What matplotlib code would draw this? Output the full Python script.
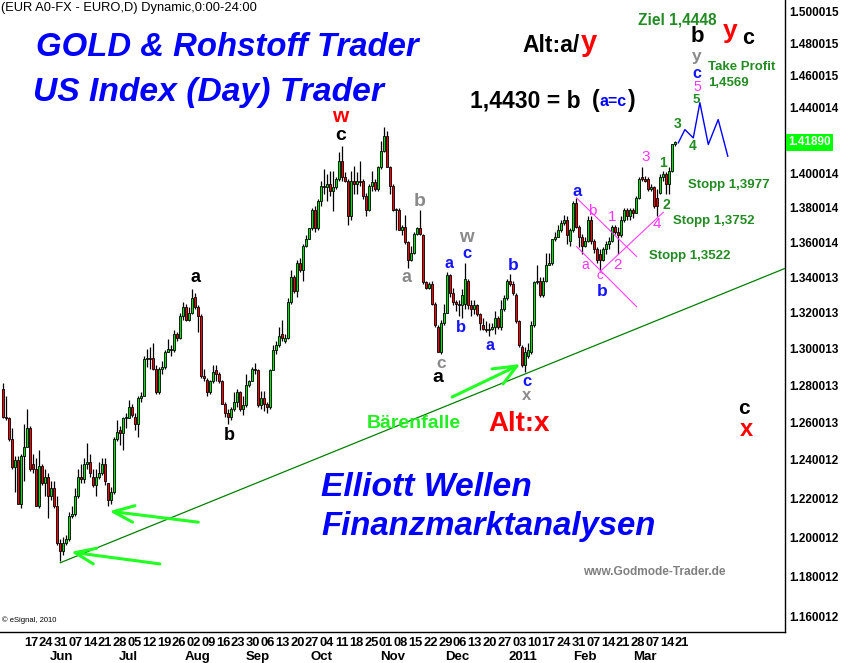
import matplotlib.pyplot as plt
import numpy as np
from matplotlib.ticker import NullLocator

plt.rcParams['font.family'] = ['Liberation Sans', 'DejaVu Sans']

# daily candles, EUR/USD
opens = [1.278, 1.263, 1.262, 1.251, 1.236, 1.240, 1.217, 1.242, 1.247, 1.257,
         1.238, 1.235, 1.216, 1.237, 1.228, 1.231, 1.221, 1.225, 1.216, 1.197,
         1.193, 1.197, 1.199, 1.211, 1.212, 1.221, 1.231, 1.230, 1.238, 1.239,
         1.231, 1.227, 1.231, 1.233, 1.238, 1.228, 1.219, 1.223, 1.251, 1.256,
         1.254, 1.262, 1.262, 1.268, 1.263, 1.259, 1.273, 1.274, 1.294, 1.295,
         1.295, 1.289, 1.276, 1.289, 1.290, 1.298, 1.300, 1.299, 1.308, 1.306,
         1.318, 1.323, 1.316, 1.320, 1.329, 1.323, 1.318, 1.285, 1.283, 1.276,
         1.282, 1.288, 1.286, 1.282, 1.270, 1.265, 1.263, 1.267, 1.271, 1.276,
         1.267, 1.269, 1.280, 1.282, 1.289, 1.288, 1.269, 1.273, 1.270, 1.268,
         1.288, 1.299, 1.302, 1.308, 1.304, 1.306, 1.326, 1.340, 1.332, 1.348,
         1.344, 1.358, 1.362, 1.368, 1.379, 1.368, 1.384, 1.393, 1.392, 1.394,
         1.390, 1.392, 1.397, 1.408, 1.398, 1.396, 1.375, 1.396, 1.394, 1.396,
         1.396, 1.387, 1.379, 1.393, 1.395, 1.391, 1.404, 1.414, 1.423, 1.404,
         1.393, 1.379, 1.379, 1.367, 1.369, 1.360, 1.350, 1.354, 1.365, 1.368,
         1.364, 1.337, 1.334, 1.336, 1.325, 1.312, 1.298, 1.314, 1.320, 1.341,
         1.331, 1.326, 1.325, 1.324, 1.325, 1.338, 1.324, 1.322, 1.324, 1.319,
         1.313, 1.311, 1.310, 1.311, 1.312, 1.317, 1.312, 1.322, 1.328, 1.338,
         1.336, 1.330, 1.315, 1.301, 1.291, 1.296, 1.298, 1.313, 1.337, 1.338,
         1.330, 1.338, 1.347, 1.348, 1.362, 1.363, 1.367, 1.371, 1.373, 1.361,
         1.367, 1.383, 1.369, 1.363, 1.358, 1.361, 1.373, 1.361, 1.356, 1.353,
         1.350, 1.356, 1.359, 1.361, 1.369, 1.366, 1.364, 1.373, 1.379, 1.375,
         1.379, 1.377, 1.386, 1.398, 1.397, 1.397, 1.391, 1.392, 1.386, 1.389,
         1.398, 1.400, 1.394, 1.402, 1.418]
highs = [1.281, 1.274, 1.263, 1.257, 1.242, 1.242, 1.243, 1.259, 1.267, 1.258,
         1.243, 1.241, 1.245, 1.238, 1.235, 1.233, 1.229, 1.229, 1.221, 1.199,
         1.200, 1.201, 1.213, 1.216, 1.225, 1.235, 1.238, 1.241, 1.249, 1.243,
         1.235, 1.235, 1.239, 1.241, 1.241, 1.228, 1.226, 1.252, 1.261, 1.258,
         1.263, 1.265, 1.272, 1.270, 1.265, 1.274, 1.276, 1.296, 1.300, 1.301,
         1.303, 1.291, 1.290, 1.293, 1.299, 1.305, 1.302, 1.310, 1.309, 1.320,
         1.326, 1.325, 1.323, 1.333, 1.331, 1.324, 1.319, 1.289, 1.284, 1.283,
         1.291, 1.291, 1.287, 1.283, 1.271, 1.267, 1.268, 1.276, 1.278, 1.277,
         1.274, 1.286, 1.283, 1.290, 1.292, 1.289, 1.277, 1.277, 1.271, 1.289,
         1.302, 1.304, 1.312, 1.316, 1.308, 1.328, 1.344, 1.341, 1.350, 1.351,
         1.359, 1.364, 1.3685, 1.380, 1.381, 1.385, 1.396, 1.403, 1.400, 1.402,
         1.402, 1.398, 1.413, 1.417, 1.401, 1.397, 1.402, 1.405, 1.401, 1.408,
         1.397, 1.389, 1.394, 1.402, 1.397, 1.405, 1.420, 1.428, 1.426, 1.405,
         1.394, 1.380, 1.380, 1.370, 1.376, 1.361, 1.358, 1.366, 1.369, 1.379,
         1.365, 1.338, 1.337, 1.338, 1.326, 1.313, 1.316, 1.325, 1.343, 1.342,
         1.334, 1.327, 1.327, 1.333, 1.348, 1.339, 1.327, 1.327, 1.325, 1.320,
         1.317, 1.315, 1.314, 1.314, 1.321, 1.318, 1.327, 1.330, 1.339, 1.342,
         1.338, 1.331, 1.316, 1.302, 1.301, 1.303, 1.315, 1.338, 1.347, 1.340,
         1.340, 1.354, 1.354, 1.362, 1.366, 1.370, 1.373, 1.376, 1.375, 1.368,
         1.384, 1.386, 1.370, 1.365, 1.363, 1.375, 1.375, 1.362, 1.357, 1.356,
         1.357, 1.361, 1.363, 1.370, 1.370, 1.369, 1.375, 1.380, 1.380, 1.380,
         1.380, 1.387, 1.398, 1.404, 1.399, 1.398, 1.394, 1.393, 1.391, 1.400,
         1.402, 1.401, 1.404, 1.418, 1.4195]
lows = [1.262, 1.261, 1.250, 1.235, 1.223, 1.217, 1.215, 1.229, 1.247, 1.234,
        1.233, 1.216, 1.215, 1.227, 1.221, 1.210, 1.219, 1.215, 1.196, 1.188,
        1.191, 1.196, 1.198, 1.210, 1.211, 1.220, 1.228, 1.228, 1.235, 1.231,
        1.226, 1.221, 1.230, 1.232, 1.227, 1.216, 1.217, 1.222, 1.250, 1.248,
        1.245, 1.257, 1.262, 1.263, 1.256, 1.252, 1.271, 1.274, 1.290, 1.289,
        1.288, 1.275, 1.275, 1.286, 1.289, 1.298, 1.296, 1.298, 1.304, 1.305,
        1.316, 1.315, 1.315, 1.319, 1.322, 1.309, 1.284, 1.282, 1.274, 1.275,
        1.281, 1.282, 1.281, 1.270, 1.263, 1.259, 1.261, 1.266, 1.268, 1.266,
        1.264, 1.268, 1.279, 1.282, 1.286, 1.268, 1.267, 1.266, 1.265, 1.267,
        1.288, 1.297, 1.301, 1.304, 1.303, 1.305, 1.325, 1.331, 1.329, 1.343,
        1.338, 1.357, 1.362, 1.367, 1.366, 1.367, 1.381, 1.388, 1.384, 1.387,
        1.378, 1.391, 1.396, 1.396, 1.395, 1.370, 1.373, 1.388, 1.388, 1.393,
        1.385, 1.375, 1.378, 1.390, 1.390, 1.390, 1.403, 1.413, 1.404, 1.388,
        1.378, 1.367, 1.367, 1.364, 1.359, 1.345, 1.349, 1.353, 1.364, 1.364,
        1.336, 1.333, 1.333, 1.324, 1.312, 1.298, 1.297, 1.313, 1.320, 1.329,
        1.324, 1.321, 1.318, 1.317, 1.322, 1.322, 1.318, 1.319, 1.318, 1.310,
        1.310, 1.309, 1.307, 1.310, 1.308, 1.311, 1.310, 1.321, 1.327, 1.335,
        1.330, 1.314, 1.301, 1.290, 1.287, 1.295, 1.297, 1.312, 1.336, 1.329,
        1.329, 1.337, 1.347, 1.347, 1.361, 1.363, 1.366, 1.370, 1.359, 1.358,
        1.366, 1.368, 1.357, 1.353, 1.357, 1.360, 1.359, 1.354, 1.348, 1.344,
        1.349, 1.353, 1.356, 1.360, 1.365, 1.353, 1.363, 1.372, 1.373, 1.373,
        1.374, 1.377, 1.385, 1.396, 1.395, 1.390, 1.390, 1.380, 1.375, 1.388,
        1.396, 1.388, 1.388, 1.401, 1.417]
closes = [1.263, 1.262, 1.251, 1.236, 1.240, 1.217, 1.242, 1.247, 1.257, 1.235,
          1.235, 1.216, 1.237, 1.228, 1.231, 1.221, 1.225, 1.216, 1.197, 1.193,
          1.197, 1.199, 1.211, 1.212, 1.221, 1.231, 1.230, 1.238, 1.239, 1.233,
          1.227, 1.231, 1.233, 1.238, 1.229, 1.219, 1.223, 1.251, 1.255, 1.254,
          1.262, 1.2625, 1.268, 1.264, 1.259, 1.273, 1.274, 1.294, 1.295, 1.294,
          1.289, 1.276, 1.289, 1.290, 1.298, 1.300, 1.299, 1.308, 1.306, 1.318,
          1.323, 1.316, 1.320, 1.328, 1.323, 1.318, 1.285, 1.284, 1.276, 1.282,
          1.287, 1.286, 1.282, 1.270, 1.265, 1.263, 1.267, 1.271, 1.276, 1.267,
          1.269, 1.280, 1.282, 1.289, 1.288, 1.269, 1.273, 1.270, 1.268, 1.288,
          1.299, 1.302, 1.307, 1.306, 1.306, 1.326, 1.340, 1.332, 1.348, 1.344,
          1.358, 1.362, 1.368, 1.379, 1.368, 1.384, 1.393, 1.392, 1.394, 1.390,
          1.392, 1.397, 1.408, 1.398, 1.396, 1.375, 1.396, 1.394, 1.396, 1.395,
          1.387, 1.379, 1.393, 1.395, 1.391, 1.404, 1.414, 1.423, 1.404, 1.393,
          1.379, 1.3795, 1.367, 1.369, 1.360, 1.350, 1.354, 1.365, 1.368, 1.365,
          1.337, 1.334, 1.336, 1.325, 1.313, 1.298, 1.314, 1.320, 1.341, 1.331,
          1.326, 1.325, 1.324, 1.330, 1.339, 1.324, 1.322, 1.324, 1.319, 1.314,
          1.311, 1.310, 1.311, 1.312, 1.317, 1.312, 1.322, 1.328, 1.338, 1.336,
          1.331, 1.315, 1.302, 1.291, 1.298, 1.299, 1.313, 1.337, 1.338, 1.330,
          1.338, 1.347, 1.348, 1.362, 1.363, 1.367, 1.371, 1.373, 1.364, 1.367,
          1.383, 1.369, 1.363, 1.358, 1.361, 1.373, 1.361, 1.356, 1.350, 1.350,
          1.356, 1.359, 1.361, 1.369, 1.366, 1.364, 1.373, 1.379, 1.375, 1.379,
          1.377, 1.386, 1.397, 1.397, 1.396, 1.391, 1.392, 1.381, 1.381, 1.398,
          1.400, 1.394, 1.402, 1.418, 1.419]

day_labels = ["17", "24", "31", "07", "14", "21", "28", "05", "12", "19", "26",
              "02", "09", "16", "23", "30", "06", "13", "20", "27", "04", "11",
              "18", "25", "01", "08", "15", "22", "29", "06", "13", "20", "27",
              "03", "10", "17", "24", "31", "07", "14", "21", "28", "07", "14", "21"]
month_labels = ["Jun", "Jul", "Aug", "Sep", "Oct", "Nov", "Dec", "2011", "Feb", "Mar"]
month_pos = [20.6, 42.6, 65.6, 85.9, 107.2, 130.9, 152.2, 174.2, 194.9, 214.9]
price_ticks = [1.160012, 1.180012, 1.200012, 1.220012, 1.240012, 1.260013,
               1.280013, 1.300013, 1.320013, 1.340013, 1.360014, 1.380014,
               1.400014, 1.440014, 1.460015, 1.480015, 1.500015]
last_price = 1.41890

# support line from the June low
trend_x = [20, 261.6]
trend_y = [1.187, 1.345]
# projected path after the last candle
proj_x = [226.0, 228.2, 231.0, 233.2, 236.0, 239.3, 242.5]
proj_y = [1.4186, 1.4266, 1.4216, 1.4430, 1.4176, 1.4327, 1.4106]
# pink channel lines (start, end)
channels = [((192.1, 1.3858), (212.1, 1.3518)),
            ((192.1, 1.3575), (212.1, 1.3233)),
            ((199.9, 1.3431), (221.0, 1.3774))]
# hand-drawn arrows: tail, tip, head1, head2
arrows = [((53.2, 1.1864), (24.9, 1.1921), (32.1, 1.1943), (31.0, 1.1864)),
          ((66.0, 1.2076), (37.7, 1.2130), (44.9, 1.2161), (44.1, 1.2076)),
          ((150.6, 1.2735), (172.2, 1.2904), (163.9, 1.2888), (167.6, 1.2806))]

W, H = 841, 663
fig = plt.figure(figsize=(W / 100, H / 100), dpi=100)
ax = fig.add_axes([0, 31 / H, 785 / W, 632 / H])
ax.set_yscale('log')
ax.set_ylim(1.1526, 1.5073)
ax.set_xlim(-0.1, 261.57)

x = np.arange(1, len(opens) + 1)
o = np.array(opens)
c = np.array(closes)
bottom = np.minimum(o, c)
height = np.maximum(np.abs(c - o), 0.0005)
cols = ['#00e600' if cc >= oo else '#ff0000' for oo, cc in zip(o, c)]
ax.vlines(x, lows, highs, color='black', lw=0.9, zorder=2)
ax.bar(x, height, bottom=bottom, width=0.8, color=cols,
       edgecolor='black', linewidth=0.6, zorder=3)

ax.plot(trend_x, trend_y, color='#008000', lw=0.9, zorder=4)
ax.plot(proj_x, proj_y, color='#0000ff', lw=1.0, zorder=4)
for (x0, y0), (x1, y1) in channels:
    ax.plot([x0, x1], [y0, y1], color='#ff40ff', lw=0.8, zorder=4)
for tail, tip, h1, h2 in arrows:
    ax.plot([tail[0], tip[0], h1[0]], [tail[1], tip[1], h1[1]],
            color='#22ff22', lw=2.2, solid_capstyle='round', zorder=5)
    ax.plot([tip[0], h2[0]], [tip[1], h2[1]],
            color='#22ff22', lw=2.2, solid_capstyle='round', zorder=5)

for s in ['top', 'left']:
    ax.spines[s].set_visible(False)
for s in ['right', 'bottom']:
    ax.spines[s].set_linewidth(1.0)
    ax.spines[s].set_color('black')

ax.yaxis.tick_right()
ax.yaxis.set_minor_locator(NullLocator())
ax.set_yticks(price_ticks)
ax.set_yticklabels(['%.6f' % v for v in price_ticks], fontsize=8.5, fontweight='bold')
ax.tick_params(axis='y', length=0, pad=3)

day_pos = 10.23 + 4.932 * np.arange(len(day_labels))
ax.set_xticks(day_pos)
ax.set_xticklabels(day_labels, fontsize=9.3, fontweight='bold')
ax.tick_params(axis='x', length=0, pad=3.5)
for m, lab in zip(month_pos, month_labels):
    ax.text(m, -0.0396, lab, transform=ax.get_xaxis_transform(), ha='center',
            va='center', fontsize=9.5, fontweight='bold', clip_on=False)

ax.text(1.004, last_price, '1.41890', transform=ax.get_yaxis_transform(),
        ha='left', va='center', color='white', fontsize=8.5, fontweight='bold',
        bbox=dict(facecolor='#00ff00', edgecolor='none', pad=1.6), clip_on=False)

# text layer in pixel coordinates
ov = fig.add_axes([0, 0, 1, 1])
ov.set_xlim(0, W)
ov.set_ylim(H, 0)
ov.axis('off')


def label(px, py, s, color='black', size=12, weight='bold', style='normal', ha='center'):
    ov.text(px, py, s, color=color, fontsize=size, fontweight=weight,
            fontstyle=style, ha=ha, va='center')


BLUE = '#0000ff'
WBLUE = '#1414ff'
GRAY = '#8a8a8a'
GREEN = '#238b23'
PINK = '#ff33ff'

label(1, 8, '(EUR A0-FX - EURO,D) Dynamic,0:00-24:00', size=9.3, weight='normal', ha='left')
label(36, 47, 'GOLD & Rohstoff Trader', BLUE, 23.7, style='italic', ha='left')
label(33, 92, 'US Index (Day) Trader', BLUE, 24.2, style='italic', ha='left')
label(321, 488, 'Elliott Wellen', BLUE, 24.2, style='italic', ha='left')
label(321, 527, 'Finanzmarktanalysen', BLUE, 23.7, style='italic', ha='left')
label(583, 572, 'www.Godmode-Trader.de', '#808080', 8.6, ha='left')
label(2, 620, '© eSignal, 2010', size=5.5, weight='normal', ha='left')

label(522, 45, 'Alt:a/', 'black', 16.5, ha='left')
label(589, 43, 'y', '#ff0000', 21)
label(470, 101, '1,4430 = b', 'black', 16.5, ha='left')
label(592, 101, '(', 'black', 16.5, ha='left')
label(600, 101, 'a=c', BLUE, 11.5, ha='left')
label(628, 101, ')', 'black', 16.5, ha='left')

label(340, 117, 'w', '#ff0000', 15)
label(341, 135, 'c', 'black', 14)
label(196, 278, 'a', 'black', 13)
label(229, 436, 'b', 'black', 13)
label(420, 202, 'b', GRAY, 14)
label(407, 278, 'a', GRAY, 13)
label(466, 237, 'w', GRAY, 13.5)
label(467, 254, 'c', WBLUE, 12)
label(449, 264, 'a', WBLUE, 11.5)
label(461, 328, 'b', WBLUE, 12)
label(490, 346, 'a', WBLUE, 11.5)
label(513, 266, 'b', WBLUE, 12.5)
label(441, 364, 'c', GRAY, 12.5)
label(438, 378, 'a', 'black', 14)
label(527, 381, 'c', WBLUE, 12)
label(527, 395, 'x', GRAY, 12)
label(367, 423, 'Bärenfalle', '#22ee22', 14, ha='left')
label(488, 424, 'Alt:x', '#ff0000', 20, ha='left')

label(577, 191, 'a', WBLUE, 12)
label(592, 211, 'b', PINK, 11, weight='normal')
label(612, 217, '1', PINK, 11, weight='normal')
label(585, 265, 'a', PINK, 10, weight='normal')
label(618, 265, '2', PINK, 11, weight='normal')
label(600, 276, 'c', PINK, 9.5, weight='normal')
label(602, 291, 'b', WBLUE, 12.5)
label(646, 157, '3', PINK, 11, weight='normal')
label(657, 224, '4', PINK, 11, weight='normal')
label(663, 163, '1', GREEN, 10)
label(666, 205, '2', GREEN, 10)
label(678, 124, '3', GREEN, 10)
label(693, 146, '4', GREEN, 10)
label(696, 100, '5', GREEN, 9.5)
label(697, 87, '5', PINK, 10, weight='normal')
label(697, 74, 'c', WBLUE, 11.5)
label(697, 56, 'y', GRAY, 12.5)
label(697, 37, 'b', 'black', 16)
label(730, 31, 'y', '#ff0000', 19)
label(748, 38, 'c', 'black', 15.5)
label(638, 20, 'Ziel 1,4448', GREEN, 11.2, ha='left')
label(708, 67, 'Take Profit', GREEN, 9.5, ha='left')
label(708, 83, '1,4569', GREEN, 9.5, ha='left')
label(688, 185, 'Stopp 1,3977', GREEN, 9.5, ha='left')
label(673, 221, 'Stopp 1,3752', GREEN, 9.5, ha='left')
label(649, 256, 'Stopp 1,3522', GREEN, 9.5, ha='left')

label(744, 409, 'c', 'black', 15)
label(746, 430, 'x', '#ff0000', 17)

fig.savefig('out.png', dpi=100)
